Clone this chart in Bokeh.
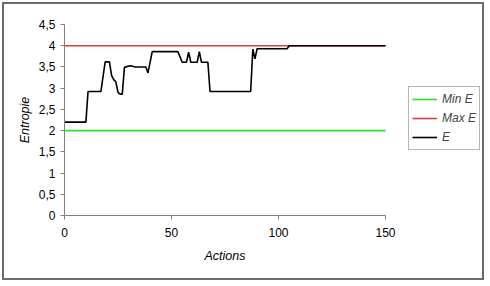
from bokeh.plotting import figure
from bokeh.models import Range1d, FixedTicker, Legend, LegendItem, Title
from bokeh.embed import file_html
from bokeh.resources import INLINE

# Data
actions = [0, 10, 11, 17, 19, 21, 22, 23, 24, 25, 26, 27, 28, 30, 31, 33, 37, 38, 39, 41,
           53, 55, 57, 58, 59, 62, 63, 64, 67, 68, 87, 88, 89, 90, 104, 105, 150]
entropy = [2.2, 2.2, 2.92, 2.92, 3.62, 3.62, 3.3, 3.2, 3.15, 2.9, 2.86, 2.86, 3.49, 3.52, 3.53, 3.5, 3.5, 3.5, 3.36, 3.86,
           3.86, 3.61, 3.61, 3.85, 3.61, 3.61, 3.86, 3.61, 3.61, 2.92, 2.92, 3.92, 3.69, 3.93, 3.93, 4.0, 4.0]
bound_x = [0, 150]
min_e = [2, 2]
max_e = [4, 4]
x_ticks = [0, 50, 100, 150]
y_ticks = [0, 0.5, 1, 1.5, 2, 2.5, 3, 3.5, 4, 4.5]
y_tick_labels = ["0", "0,5", "1", "1,5", "2", "2,5", "3", "3,5", "4", "4,5"]
x_title = "Actions"
y_title = "Entropie"

FONT = "Liberation Sans"

# frame is widened to the right so the legend can sit inside it; the x axis is bounded to 0..150
p = figure(width=482, height=278, output_backend="svg", toolbar_location=None,
           x_range=Range1d(0, 150 * 422 / 321), y_range=Range1d(0, 4.5),
           min_border_left=60, min_border_right=0, min_border_top=20, min_border_bottom=67)
p.styles = {"border": "2px solid #6b6b6b", "margin": "2px"}
p.outline_line_color = None
p.xgrid.visible = False
p.ygrid.visible = False
p.background_fill_color = "white"
p.border_fill_color = "white"

r_min = p.line(bound_x, min_e, line_color="#2fdf2f", line_width=1.6)
r_max = p.line(bound_x, max_e, line_color="#e03a3a", line_width=1.6)
r_e = p.line(actions, entropy, line_color="#000000", line_width=1.6)

for ax in (p.xaxis[0], p.yaxis[0]):
    ax.axis_line_color = "#808080"
    ax.major_tick_line_color = "#808080"
    ax.minor_tick_line_color = None
    ax.major_tick_in = 0
    ax.major_tick_out = 4
    ax.major_label_text_font = FONT
    ax.major_label_text_font_size = "12px"
    ax.major_label_text_color = "#000000"
    ax.axis_label_text_font = FONT
    ax.axis_label_text_font_size = "12.5px"
    ax.axis_label_text_font_style = "italic"
    ax.axis_label_text_color = "#000000"

p.xaxis.bounds = (0, 150)
p.xaxis.ticker = FixedTicker(ticks=x_ticks)
p.yaxis.ticker = FixedTicker(ticks=y_ticks)
p.yaxis.major_label_overrides = {t: l for t, l in zip(y_ticks, y_tick_labels)}
p.yaxis.axis_label = y_title
p.xaxis.major_label_standoff = 8
p.yaxis.major_label_standoff = 5
p.yaxis.axis_label_standoff = 4

# x axis title centred under the 0..150 part of the axis
xt = Title(text=x_title, align="left", offset=140, standoff=14,
           text_font=FONT, text_font_size="12.5px", text_font_style="italic",
           text_color="#000000")
p.add_layout(xt, "below")

legend = Legend(items=[LegendItem(label="Min E", renderers=[r_min]),
                       LegendItem(label="Max E", renderers=[r_max]),
                       LegendItem(label="E", renderers=[r_e])],
                location=(344, 65))
legend.label_text_font = FONT
legend.label_text_font_size = "12px"
legend.label_text_font_style = "italic"
legend.border_line_color = "#6b6b6b"
legend.border_line_width = 1
legend.background_fill_alpha = 1
legend.glyph_width = 25
legend.glyph_height = 18
legend.label_height = 18
legend.label_standoff = 5
legend.spacing = 1
legend.padding = 3
legend.margin = 0
p.add_layout(legend, "center")

open("out.html", "w").write(file_html(p, INLINE))
